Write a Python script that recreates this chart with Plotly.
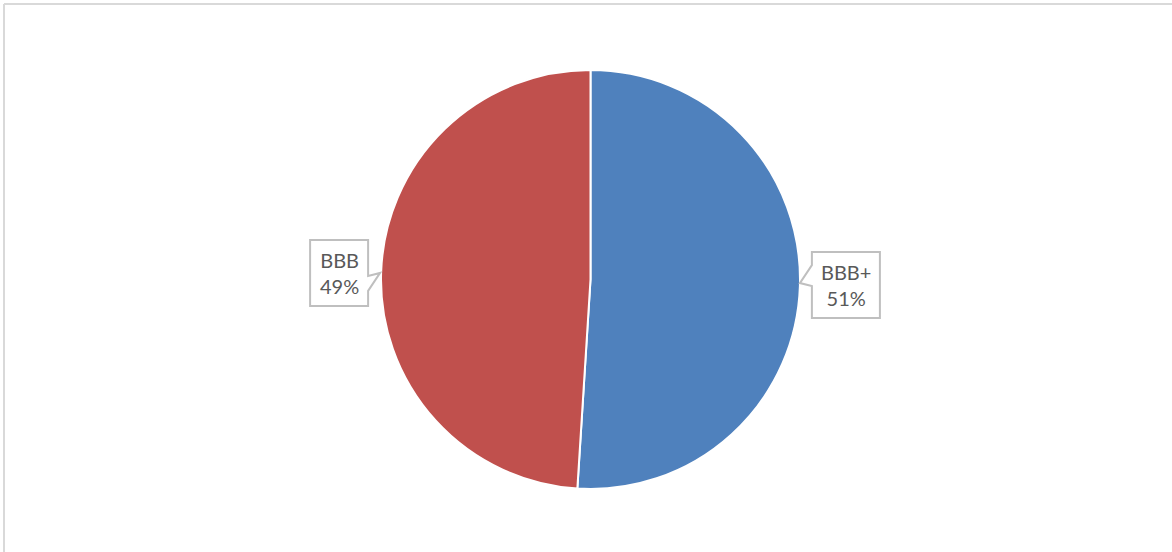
import math
import plotly.graph_objects as go

# Rating split
ratings = ["BBB+", "BBB"]
shares = [51, 49]
colors = ["#4F81BD", "#C0504D"]

W, H = 1172, 552
CX, CY, R = 590.5, 279.5, 209.5  # pie centre / radius in pixels


def px(x):
    return x / W


def py(y):
    return 1 - y / H


fig = go.Figure(
    go.Pie(
        labels=ratings,
        values=shares,
        sort=False,
        direction="clockwise",
        rotation=0,
        marker=dict(colors=colors, line=dict(color="white", width=2)),
        textinfo="none",
        hoverinfo="label+percent",
        showlegend=False,
        domain=dict(x=[px(CX - R), px(CX + R)], y=[py(CY + R), py(CY - R)]),
    )
)

total = sum(shares)
shapes = []
annotations = []
BOX_H = 66
cum = 0
for name, val in zip(ratings, shares):
    mid = (cum + val / 2) / total * 2 * math.pi  # clockwise from 12 o'clock
    cum += val
    edge_x = CX + R * math.sin(mid)
    edge_y = CY - R * math.cos(mid)
    if math.sin(mid) > 0:
        # callout to the right of the pie
        tip_x, tip_y = edge_x, edge_y - 3
        x0 = tip_x + 12
        x1 = x0 + 68
        y0 = tip_y - 31
        pts = [(x0, y0), (x1, y0), (x1, y0 + BOX_H), (x0, y0 + BOX_H),
               (x0, tip_y + 3), (tip_x, tip_y), (x0, tip_y - 18), (x0, y0)]
    else:
        # callout to the left of the pie
        tip_x, tip_y = edge_x - 1, edge_y
        x1 = tip_x - 12
        x0 = x1 - 58
        y0 = tip_y - 33
        pts = [(x0, y0), (x1, y0), (x1, tip_y + 3), (tip_x, tip_y),
               (x1, tip_y + 18), (x1, y0 + BOX_H), (x0, y0 + BOX_H), (x0, y0)]
    path = "M " + " L ".join(f"{px(a):.5f},{py(b):.5f}" for a, b in pts) + " Z"
    shapes.append(dict(type="path", xref="paper", yref="paper", path=path,
                       line=dict(color="#BFBFBF", width=2), fillcolor="white",
                       layer="above"))
    annotations.append(dict(
        x=px((x0 + x1) / 2), y=py(y0 + BOX_H / 2), xref="paper", yref="paper",
        text=f"{name}<br>{round(val / total * 100)}%", showarrow=False,
        align="center", xanchor="center", yanchor="middle",
        font=dict(family="Lato, Open Sans, sans-serif", size=20, color="#595959"),
    ))

# chart area frame (top and left edges visible)
shapes.append(dict(type="line", xref="paper", yref="paper",
                   x0=px(4), x1=1.01, y0=py(4), y1=py(4),
                   line=dict(color="#D9D9D9", width=2)))
shapes.append(dict(type="line", xref="paper", yref="paper",
                   x0=px(4), x1=px(4), y0=py(4), y1=-0.01,
                   line=dict(color="#D9D9D9", width=2)))

fig.update_layout(
    width=W, height=H,
    margin=dict(l=0, r=0, t=0, b=0),
    paper_bgcolor="white", plot_bgcolor="white",
    shapes=shapes, annotations=annotations,
)

fig.write_html("out.html")
